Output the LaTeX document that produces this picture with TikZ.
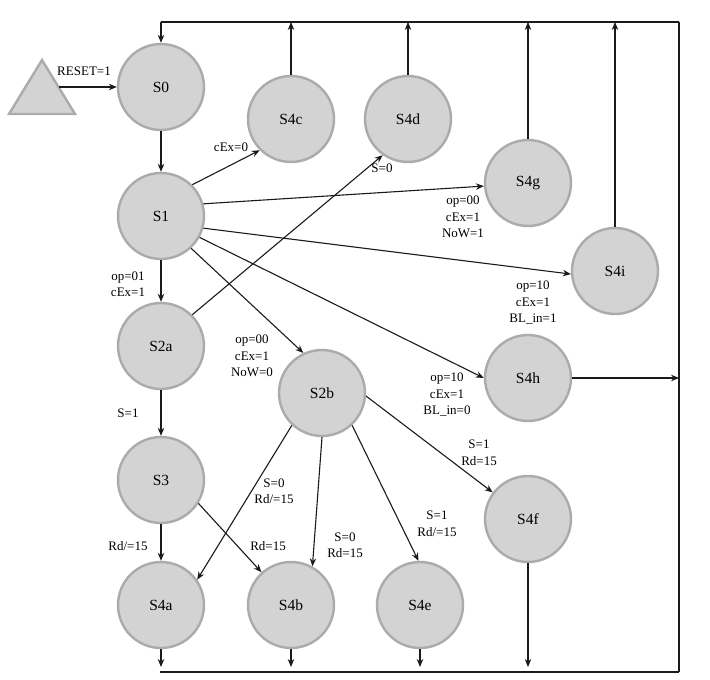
\documentclass[tikz,border=0pt]{standalone}
\usepackage{fontspec}
\setmainfont{Liberation Serif}
\usetikzlibrary{arrows.meta}
\definecolor{stfill}{HTML}{D3D3D3}
\definecolor{stline}{HTML}{ABABAB}
\definecolor{ink}{HTML}{1A1A1A}
\tikzset{
  state/.style={circle, draw=stline, fill=stfill, line width=2.4pt, minimum size=86pt, inner sep=0pt, font=\fontsize{15.5}{17}\selectfont},
  lbl/.style={align=center, inner sep=0pt, font=\fontsize{13}{16.5}\selectfont},
  edge/.style={draw=ink, line width=1.1pt, -{Stealth[length=8pt,width=6.5pt]}},
  wire/.style={draw=ink, line width=1.1pt},
}
\begin{document}
\begin{tikzpicture}[x=1pt,y=-1pt]
\useasboundingbox (0,0) rectangle (710,680);
% states
\node[state] (S0) at (161,87) {S0};
\node[state] (S1) at (161,216) {S1};
\node[state] (S2a) at (161,346) {S2a};
\node[state] (S3) at (161,480) {S3};
\node[state] (S4a) at (161,605) {S4a};
\node[state] (S4b) at (291,605) {S4b};
\node[state] (S4e) at (420,605) {S4e};
\node[state] (S2b) at (322,393) {S2b};
\node[state] (S4c) at (291,119) {S4c};
\node[state] (S4d) at (408,119) {S4d};
\node[state] (S4g) at (528,183) {S4g};
\node[state] (S4i) at (615,271) {S4i};
\node[state] (S4h) at (528,378) {S4h};
\node[state] (S4f) at (528,519) {S4f};
% reset triangle
\draw[draw=stline, fill=stfill, line width=2.4pt, line join=miter] (9,114) -- (42,60) -- (75,114) -- cycle;
\coordinate (rs) at (59,87);
% frame coordinates
\coordinate (tl) at (161,22);
\coordinate (tr) at (679,22);
\coordinate (br) at (679,672);
\coordinate (bl) at (160,672);
% frame
\draw[wire] (tr) -- (tl);
\draw[edge] (tl) -- (S0.north);
\draw[wire] (tr) -- (br);
\draw[wire] (br) -- (bl);
% reset
\draw[edge] (rs) -- (S0.west);
\node[lbl] (lreset) at (84,71) {RESET=1};
% main transitions
\draw[edge] (S0.south) -- (S1.north);
\draw[edge] (S1.45) -- (S4c.225);
\draw[edge] (S1.16) -- (S4g.184);
\draw[edge] (S1.344) -- (S4i.184);
\draw[edge] (S1.331) -- (S4h.180);
\draw[edge] (S1.313) -- (S2b.115);
\draw[edge] (S1.south) -- (S2a.north);
\draw[edge] (S2a.45) -- (S4d.235);
\draw[edge] (S2a.south) -- (S3.north);
\draw[edge] (S2b.227) -- (S4a.35);
\draw[edge] (S2b.270) -- (S4b.61);
\draw[edge] (S2b.313) -- (S4e.92);
\draw[edge] (S2b.356) -- (S4f.143);
\draw[edge] (S3.south) -- (S4a.north);
\draw[edge] (S3.328) -- (S4b.132);
% returns to top
\draw[edge] (S4c.north) -- (S4c.north |- tl);
\draw[edge] (S4d.north) -- (S4d.north |- tl);
\draw[edge] (S4g.north) -- (S4g.north |- tl);
\draw[edge] (S4i.north) -- (S4i.north |- tl);
\draw[edge] (S4h.east) -- (S4h.east -| br);
% returns to bottom
\coordinate (ba) at (161,667);
\coordinate (bb) at (291,667);
\coordinate (be) at (420,667);
\coordinate (bf) at (528,667);
\draw[edge] (S4a.south) -- (ba);
\draw[edge] (S4b.south) -- (bb);
\draw[edge] (S4e.south) -- (be);
\draw[edge] (S4f.south) -- (bf);
% labels
\node[lbl] (l1) at (231,147) {cEx=0};
\node[lbl] (l2) at (382,168) {S=0};
\node[lbl] (l3) at (463,217) {op=00\\cEx=1\\NoW=1};
\node[lbl] (l4) at (533,303) {op=10\\cEx=1\\BL\_in=1};
\node[lbl] (l5) at (447,395) {op=10\\cEx=1\\BL\_in=0};
\node[lbl] (l6) at (252,356) {op=00\\cEx=1\\NoW=0};
\node[lbl] (l7) at (128,284) {op=01\\cEx=1};
\node[lbl] (l8) at (128,413) {S=1};
\node[lbl] (l9) at (274,491) {S=0\\Rd/=15};
\node[lbl] (l10) at (345,545) {S=0\\Rd=15};
\node[lbl] (l11) at (437,524) {S=1\\Rd/=15};
\node[lbl] (l12) at (479,453) {S=1\\Rd=15};
\node[lbl] (l13) at (128,546) {Rd/=15};
\node[lbl] (l14) at (268,546) {Rd=15};
\end{tikzpicture}
\end{document}
